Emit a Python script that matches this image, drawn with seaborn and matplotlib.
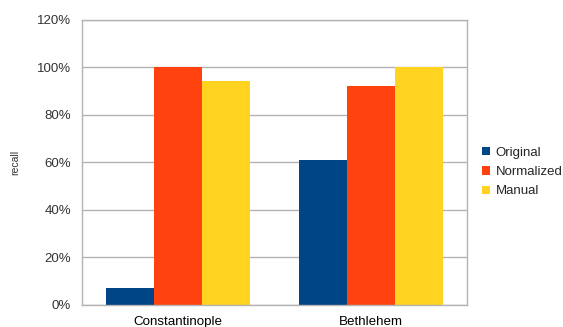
import matplotlib
matplotlib.use("Agg")
import matplotlib.pyplot as plt
from matplotlib.ticker import FixedLocator, PercentFormatter
import seaborn as sns
import pandas as pd

cities = ["Constantinople", "Bethlehem"]
methods = ["Original", "Normalized", "Manual"]
original = [0.07, 0.61]
normalized = [1.00, 0.92]
manual = [0.944, 1.00]
y_ticks = [0, 0.2, 0.4, 0.6, 0.8, 1.0, 1.2]

colors = ["#004586", "#ff420e", "#ffd320"]

rows = []
for series, vals in zip(methods, [original, normalized, manual]):
    for city, v in zip(cities, vals):
        rows.append({"city": city, "method": series, "recall": v})
df = pd.DataFrame(rows)

sns.set_style("white")
plt.rcParams["font.family"] = ["Liberation Sans", "DejaVu Sans"]

fig = plt.figure(figsize=(5.63, 3.27), dpi=100)
ax = fig.add_axes([82 / 563, 1 - 304.5 / 327, 385 / 563, 284.5 / 327])

sns.barplot(data=df, x="city", y="recall", hue="method", order=cities,
            hue_order=methods, palette=colors, saturation=1, width=0.75,
            gap=0, ax=ax, errorbar=None, legend=True, linewidth=0)

grid_c = "#b3b3b3"
ax.set_xlim(-0.5, 1.5)
ax.set_ylim(0, 1.2)
ax.yaxis.set_major_locator(FixedLocator(y_ticks))
ax.yaxis.set_major_formatter(PercentFormatter(1.0, decimals=0))
ax.grid(axis="y", color=grid_c, linewidth=1)
ax.set_axisbelow(True)

# category boundary ticks, labels centred on the groups
ax.set_xticks([-0.5, 0.5, 1.5])
ax.set_xticklabels([])
ax.set_xticks([0, 1], minor=True)
ax.set_xticklabels(cities, minor=True, fontsize=9.6, color="#000000")
ax.tick_params(axis="x", which="major", length=6, width=1, color=grid_c, direction="out")
ax.tick_params(axis="x", which="minor", length=0, pad=8)
ax.tick_params(axis="y", length=6, width=1, color=grid_c, direction="out",
               labelsize=9.5, labelcolor="#333333", pad=2)

for s in ax.spines.values():
    s.set_color(grid_c)
    s.set_linewidth(1)

ax.set_xlabel("")
ax.set_ylabel("recall", fontsize=7.5, color="#333333", labelpad=12)

handles, labels = ax.get_legend_handles_labels()
ax.legend(handles, labels, loc="center left", bbox_to_anchor=(1.025, 0.465),
          frameon=False, fontsize=9.5, handlelength=0.6, handleheight=0.6,
          handletextpad=0.45, labelspacing=0.55, borderaxespad=0)

fig.savefig("out.png", dpi=100)
